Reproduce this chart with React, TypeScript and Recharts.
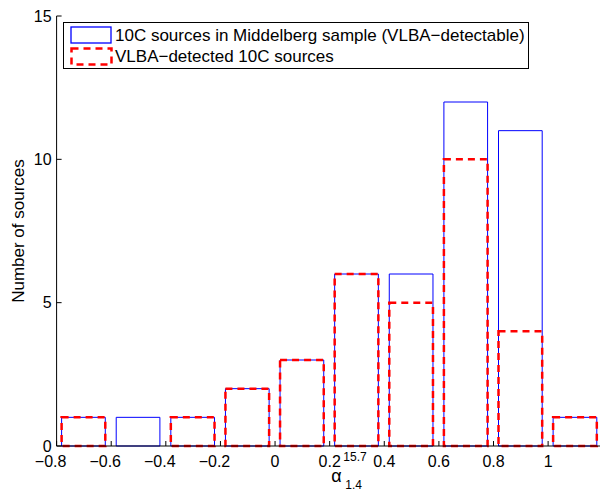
import React from 'react';
import { BarChart, Bar, XAxis, YAxis, Legend } from 'recharts';

// histogram bins (centres) and counts
const binCenters = [-0.7, -0.5, -0.3, -0.1, 0.1, 0.3, 0.5, 0.7, 0.9, 1.1];
const middelbergCounts = [1, 1, 1, 2, 3, 6, 6, 12, 11, 1];
const detectedCounts = [1, 0, 1, 2, 3, 6, 5, 10, 4, 1];
const xTicks = [-0.8, -0.6, -0.4, -0.2, 0, 0.2, 0.4, 0.6, 0.8, 1];
const yTicks = [0, 5, 10, 15];
const X_DOMAIN = [-0.8, 1.19];
const BIN_WIDTH = 0.16;

const SERIES_ALL = '10C sources in Middelberg sample (VLBA\u2212detectable)';
const SERIES_DET = 'VLBA\u2212detected 10C sources';

const W = 602;
const H = 489;
const LEFT = 56.6;
const RIGHT = 2;
const TOP = 16;
const BOTTOM = 43;
const FONT = '"Liberation Sans", Arial, Helvetica, sans-serif';
const BLUE = '#0000ff';
const RED = '#ff0000';

const data = binCenters.map((x, i) => ({ x, all: middelbergCounts[i], det: detectedCounts[i] }));

const pxPerUnit = (W - LEFT - RIGHT) / (X_DOMAIN[1] - X_DOMAIN[0]);
const barSize = BIN_WIDTH * pxPerUnit;

const fmt = (v: number) => (v < 0 ? '\u2212' + String(-v) : String(v));

function XTick(props: any) {
  const { x, y, payload } = props;
  const v = payload.value;
  return (
    <text x={x + (v < 0 ? -6 : 0)} y={y} dy="0.71em" textAnchor="middle" fill="#000" fontSize={16} fontFamily={FONT}>
      {fmt(v)}
    </text>
  );
}

function YTick(props: any) {
  const { x, y, payload } = props;
  return (
    <text x={x} y={y} dy="0.355em" textAnchor="end" fill="#000" fontSize={16} fontFamily={FONT}>
      {payload.value}
    </text>
  );
}

function XLabel(props: any) {
  const vb = props.viewBox || { x: LEFT, y: H - BOTTOM, width: W - LEFT - RIGHT };
  const cx = vb.x + vb.width / 2;
  return (
    <g fontFamily={FONT} fill="#000">
      <text x={cx + 3} y={vb.y + 36} fontSize={18}>{'\u03b1'}</text>
      <text x={cx + 15} y={vb.y + 15} fontSize={12}>15.7</text>
      <text x={cx + 17} y={vb.y + 43} fontSize={12}>1.4</text>
    </g>
  );
}

function YLabel(props: any) {
  const vb = props.viewBox || { x: 0, y: TOP, width: LEFT, height: H - TOP - BOTTOM };
  const cy = vb.y + vb.height / 2;
  return (
    <text x={18} y={cy} transform={`rotate(-90, 18, ${cy})`} textAnchor="middle" dominantBaseline="central"
      fill="#000" fontSize={17} fontFamily={FONT}>
      Number of sources
    </text>
  );
}

function LegendBox() {
  return (
    <svg width={466} height={47} style={{ display: 'block' }}>
      <rect x={0.5} y={0.5} width={465} height={46} fill="#fff" stroke="#000" strokeWidth={1} />
      <rect x={8} y={5} width={40} height={16} fill="none" style={{ stroke: BLUE }} strokeWidth={1.3} />
      <rect x={8.5} y={26.5} width={40} height={16} fill="none" style={{ stroke: RED }} strokeWidth={2.5}
        strokeDasharray="7 5" />
      <text x={52} y={13} dominantBaseline="central" fontSize={17} fontFamily={FONT} fill="#000">{SERIES_ALL}</text>
      <text x={52} y={34} dominantBaseline="central" fontSize={17} fontFamily={FONT} fill="#000">{SERIES_DET}</text>
    </svg>
  );
}

export default function App() {
  return (
    <div style={{ position: 'absolute', left: 0, top: 0, width: W, height: H, background: '#fff', fontFamily: FONT }}>
      <BarChart width={W} height={H} data={data} margin={{ top: TOP, right: RIGHT, bottom: 0, left: 0 }}
        barSize={barSize} barGap={-barSize}>
        <XAxis dataKey="x" type="number" domain={X_DOMAIN} ticks={xTicks} allowDataOverflow
          height={BOTTOM} tickSize={-5} tickMargin={15} stroke="#000" tick={<XTick />} label={<XLabel />} />
        <XAxis xAxisId="top" orientation="top" dataKey="x" type="number" domain={X_DOMAIN} ticks={xTicks}
          allowDataOverflow height={0} tickSize={-5} tick={false} stroke="#000" />
        <YAxis domain={[0, 15]} ticks={yTicks} width={LEFT} tickSize={-5} tickMargin={10} stroke="#000"
          tick={<YTick />} label={<YLabel />} />
        <YAxis yAxisId="right" orientation="right" domain={[0, 15]} ticks={yTicks} width={0} tickSize={-5}
          tick={false} stroke="#000" />
        <Legend layout="vertical" align="center" verticalAlign="middle" content={<LegendBox />}
          wrapperStyle={{ position: 'absolute', left: 63, top: 22, width: 466, height: 47 }} />
        <Bar dataKey="all" name={SERIES_ALL} fill="none" stroke={BLUE} strokeWidth={1} isAnimationActive={false} />
        <Bar dataKey="det" name={SERIES_DET} fill="none" stroke={RED} strokeWidth={2.5} strokeDasharray="7 5"
          isAnimationActive={false} />
      </BarChart>
    </div>
  );
}
